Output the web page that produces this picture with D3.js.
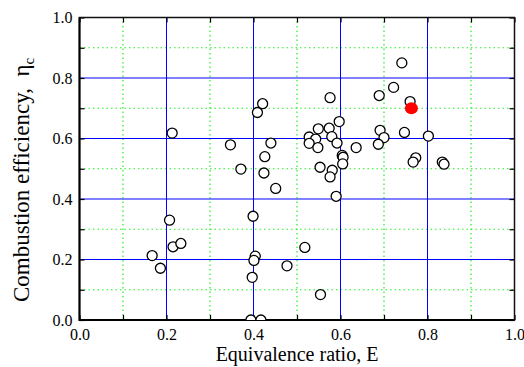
<!DOCTYPE html>
<html>
<head>
    <title>Combustion efficiency vs equivalence ratio</title>
    <script src="https://d3js.org/d3.v7.min.js"></script>
    <style>
        body { margin: 0; background: #fff; }
        svg text { font-family: "Liberation Serif", "Times New Roman", serif; }
    </style>
</head>
<body>
    <svg id="chart"></svg>

    <script>
        // Equivalence ratio E and combustion efficiency (open circles)
        const ratioE = [
            0.167, 0.186, 0.207, 0.215, 0.233, 0.213,
            0.347, 0.371, 0.399, 0.404, 0.401, 0.397, 0.394, 0.417,
            0.409, 0.421, 0.440, 0.426, 0.424, 0.451,
            0.477, 0.518, 0.554, 0.590,
            0.528, 0.543, 0.528, 0.548, 0.549, 0.574, 0.580, 0.592, 0.597, 0.576,
            0.553, 0.581, 0.576,
            0.604, 0.606, 0.605, 0.636,
            0.689, 0.722, 0.741, 0.760,
            0.691, 0.700, 0.687, 0.747, 0.802,
            0.773, 0.767, 0.834, 0.838
        ];
        const efficiency = [
            0.213, 0.171, 0.330, 0.242, 0.253, 0.618,
            0.579, 0.499, 0.343, 0.211, 0.197, 0.141, 0.000, 0.000,
            0.686, 0.715, 0.585, 0.540, 0.486, 0.435,
            0.179, 0.240, 0.084, 0.409,
            0.605, 0.598, 0.584, 0.570, 0.632, 0.634, 0.606, 0.585, 0.656, 0.735,
            0.505, 0.495, 0.473,
            0.544, 0.538, 0.516, 0.570,
            0.742, 0.769, 0.850, 0.722,
            0.627, 0.603, 0.581, 0.620, 0.608,
            0.536, 0.522, 0.522, 0.515
        ];
        // Highlighted point (filled red)
        const markE = [0.763];
        const markEff = [0.700];

        const tickValues = [0, 0.1, 0.2, 0.3, 0.4, 0.5, 0.6, 0.7, 0.8, 0.9, 1.0];
        const majorGrid = [0.2, 0.4, 0.6, 0.8];
        const minorGrid = [0.1, 0.3, 0.5, 0.7, 0.9];

        const serif = '"Liberation Serif", "Times New Roman", serif';
        const width = 524;
        const height = 367;
        const margin = { top: 17.5, left: 79.5 };
        const plotW = 435;
        const plotH = 302.5;

        const x = d3.scaleLinear().domain([0, 1]).range([margin.left, margin.left + plotW]);
        const y = d3.scaleLinear().domain([0, 1]).range([margin.top + plotH, margin.top]);

        const svg = d3.select('#chart')
            .attr('width', width)
            .attr('height', height);

        svg.append('defs').append('clipPath')
            .attr('id', 'plot-clip')
            .append('rect')
            .attr('x', x(0)).attr('y', y(1))
            .attr('width', plotW).attr('height', plotH);

        // Grid: green dotted minor, blue solid major
        const grid = svg.append('g');
        grid.selectAll('.minor-v').data(minorGrid).enter().append('line')
            .attr('x1', d => x(d)).attr('x2', d => x(d))
            .attr('y1', y(0)).attr('y2', y(1))
            .attr('stroke', '#22ee22').attr('stroke-width', 1.2)
            .attr('stroke-dasharray', '1.5,3');
        grid.selectAll('.minor-h').data(minorGrid).enter().append('line')
            .attr('y1', d => y(d)).attr('y2', d => y(d))
            .attr('x1', x(0)).attr('x2', x(1))
            .attr('stroke', '#22ee22').attr('stroke-width', 1.2)
            .attr('stroke-dasharray', '1.5,3');
        grid.selectAll('.major-v').data(majorGrid).enter().append('line')
            .attr('x1', d => x(d)).attr('x2', d => x(d))
            .attr('y1', y(0)).attr('y2', y(1))
            .attr('stroke', '#0000ff').attr('stroke-width', 1);
        grid.selectAll('.major-h').data(majorGrid).enter().append('line')
            .attr('y1', d => y(d)).attr('y2', d => y(d))
            .attr('x1', x(0)).attr('x2', x(1))
            .attr('stroke', '#0000ff').attr('stroke-width', 1);

        // Axes with inward ticks
        const fmt = d => (Math.round(d * 10) % 2 === 0 ? d3.format('.1f')(d) : '');

        svg.append('g')
            .attr('transform', `translate(0,${y(0)})`)
            .call(d3.axisBottom(x).tickValues(tickValues).tickFormat(fmt)
                .tickSizeInner(-5).tickSizeOuter(0).tickPadding(9))
            .attr('font-family', serif).attr('font-size', 16);
        svg.append('g')
            .attr('transform', `translate(${x(0)},0)`)
            .call(d3.axisLeft(y).tickValues(tickValues).tickFormat(fmt)
                .tickSizeInner(-5).tickSizeOuter(0).tickPadding(7))
            .attr('font-family', serif).attr('font-size', 16);
        svg.append('g')
            .attr('transform', `translate(0,${y(1)})`)
            .call(d3.axisTop(x).tickValues(tickValues).tickFormat('')
                .tickSizeInner(-5).tickSizeOuter(0));
        svg.append('g')
            .attr('transform', `translate(${x(1)},0)`)
            .call(d3.axisRight(y).tickValues(tickValues).tickFormat('')
                .tickSizeInner(-5).tickSizeOuter(0));

        svg.selectAll('.domain').remove();
        svg.selectAll('.tick line').attr('stroke', '#000').attr('stroke-width', 1.2);
        svg.selectAll('.tick text').attr('fill', '#000');

        // Frame
        svg.append('rect')
            .attr('x', x(0)).attr('y', y(1))
            .attr('width', plotW).attr('height', plotH)
            .attr('fill', 'none').attr('stroke', '#111').attr('stroke-width', 1.5);
        svg.append('path')
            .attr('d', `M${x(0)},${y(1)}V${y(0)}H${x(1)}`)
            .attr('fill', 'none').attr('stroke', '#000').attr('stroke-width', 2);

        // Data points
        const points = svg.append('g').attr('clip-path', 'url(#plot-clip)');
        points.selectAll('.open')
            .data(ratioE.map((e, i) => ({ e: e, eff: efficiency[i] })))
            .enter()
            .append('circle')
            .attr('cx', d => x(d.e))
            .attr('cy', d => y(d.eff))
            .attr('r', 5)
            .attr('fill', '#fff')
            .attr('stroke', '#000')
            .attr('stroke-width', 1.3);
        points.selectAll('.mark')
            .data(markE.map((e, i) => ({ e: e, eff: markEff[i] })))
            .enter()
            .append('ellipse')
            .attr('cx', d => x(d.e))
            .attr('cy', d => y(d.eff))
            .attr('rx', 6.5)
            .attr('ry', 6)
            .attr('fill', '#ff0000');

        // Axis titles
        svg.append('text')
            .attr('x', (x(0) + x(1)) / 2)
            .attr('y', 361)
            .attr('text-anchor', 'middle')
            .attr('font-family', serif)
            .attr('font-size', 20)
            .text('Equivalence ratio, E');

        const yTitle = svg.append('text')
            .attr('transform', 'translate(29,180) rotate(-90)')
            .attr('text-anchor', 'middle')
            .attr('font-family', serif)
            .attr('font-size', 23);
        yTitle.append('tspan').text('Combustion efficiency,\u00a0 \u03b7');
        yTitle.append('tspan').attr('dy', 5).attr('font-size', 15).text('c');
    </script>
</body>
</html>
